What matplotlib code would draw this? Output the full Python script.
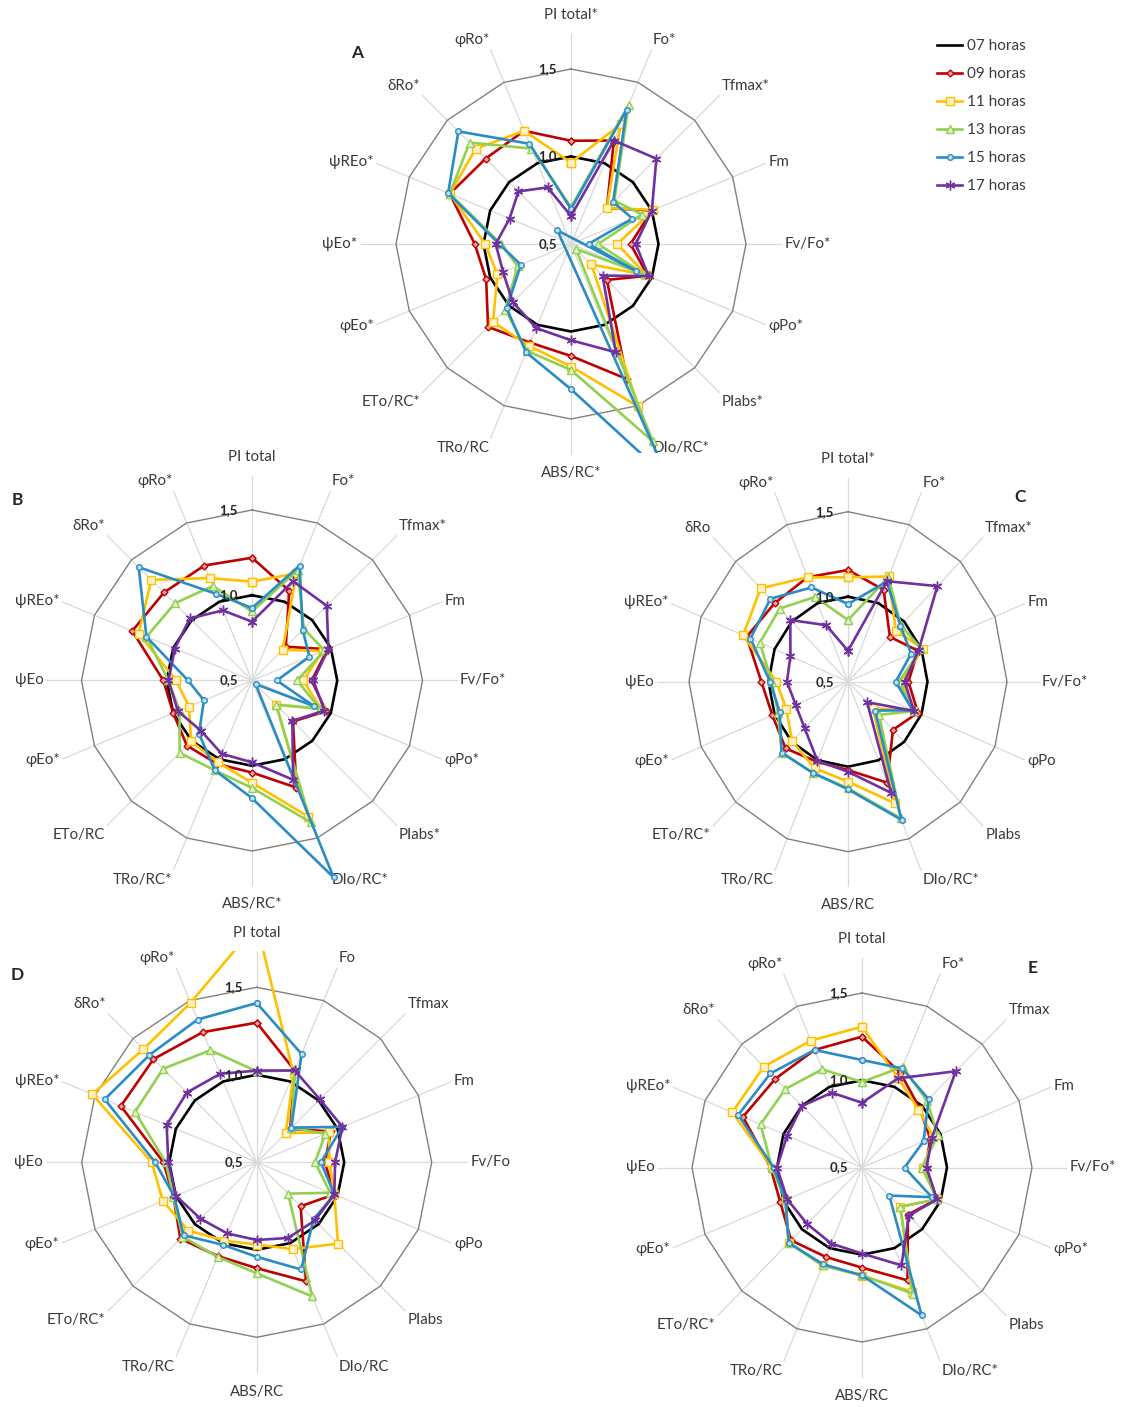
#Radar charts (A-E) of JIP-test parameters relative to 07 horas
import matplotlib.pyplot as plt
import numpy as np
from matplotlib.transforms import Bbox, TransformedBbox

plt.rcParams['font.family'] = ['Lato', 'DejaVu Sans']

W, H = 1139, 1407

hours = ['07 horas', '09 horas', '11 horas', '13 horas', '15 horas', '17 horas']
colors = ['#000000', '#C00000', '#FFC000', '#92D050', '#2B8CC4', '#7030A0']
faces = ['#000000', '#E8A6A6', '#FFF2CC', '#E2F0D0', '#BFE0F2', '#7030A0']
markers = [None, 'D', 's', '^', 'o', (6, 2, 0)]
msizes = [0, 3.5, 6, 6, 4, 7]

#Axis labels of each chart (order: clockwise from the top)
labels_A = ['PI total*', 'Fo*', 'Tfmax*', 'Fm', 'Fv/Fo*', 'φPo*', 'PIabs*', 'DIo/RC*',
            'ABS/RC*', 'TRo/RC', 'ETo/RC*', 'φEo*', 'ψEo*', 'ψREo*', 'δRo*', 'φRo*']
labels_B = ['PI total', 'Fo*', 'Tfmax*', 'Fm', 'Fv/Fo*', 'φPo*', 'PIabs*', 'DIo/RC*',
            'ABS/RC*', 'TRo/RC*', 'ETo/RC', 'φEo*', 'ψEo', 'ψREo*', 'δRo*', 'φRo*']
labels_C = ['PI total*', 'Fo*', 'Tfmax*', 'Fm', 'Fv/Fo*', 'φPo', 'PIabs', 'DIo/RC*',
            'ABS/RC', 'TRo/RC', 'ETo/RC*', 'φEo*', 'ψEo', 'ψREo*', 'δRo', 'φRo*']
labels_D = ['PI total', 'Fo', 'Tfmax', 'Fm', 'Fv/Fo', 'φPo', 'PIabs', 'DIo/RC',
            'ABS/RC', 'TRo/RC', 'ETo/RC*', 'φEo*', 'ψEo', 'ψREo*', 'δRo*', 'φRo*']
labels_E = ['PI total', 'Fo*', 'Tfmax', 'Fm', 'Fv/Fo*', 'φPo*', 'PIabs', 'DIo/RC*',
            'ABS/RC', 'TRo/RC', 'ETo/RC*', 'φEo*', 'ψEo', 'ψREo*', 'δRo*', 'φRo*']

#07 horas is the reference (=1)
ref_07 = [1.0, 1.0, 1.0, 1.0, 1.0, 1.0, 1.0, 1.0, 1.0, 1.0, 1.0, 1.0, 1.0, 1.0, 1.0, 1.0]

a_09 = [1.09, 1.14, 0.79, 1.00, 0.84, 0.975, 0.79, 1.335, 1.14, 1.11, 1.17, 1.025, 1.05, 1.25, 1.19, 1.20]
a_11 = [0.965, 1.24, 0.79, 1.01, 0.765, 0.965, 0.665, 1.505, 1.20, 1.13, 1.13, 0.955, 0.99, 1.25, 1.27, 1.20]
a_13 = [0.71, 1.36, 0.85, 0.94, 0.655, 0.955, 0.54, 1.72, 1.22, 1.16, 1.03, 0.83, 0.90, 1.25, 1.32, 1.09]
a_15 = [0.70, 1.33, 0.84, 0.88, 0.60, 0.90, 0.39, 1.95, 1.33, 1.17, 1.02, 0.81, 0.91, 1.26, 1.41, 1.12]
a_17 = [0.66, 1.14, 1.19, 1.00, 0.87, 0.98, 0.755, 1.17, 1.05, 1.02, 0.97, 0.92, 0.93, 0.88, 0.925, 0.85]

b_09 = [1.22, 1.07, 0.78, 0.98, 0.85, 0.97, 0.84, 1.18, 1.04, 1.03, 1.04, 1.00, 1.02, 1.26, 1.23, 1.23]
b_11 = [1.08, 1.18, 0.755, 0.95, 0.80, 0.94, 0.70, 1.365, 1.10, 1.02, 1.005, 0.90, 0.945, 1.22, 1.335, 1.15]
b_13 = [0.905, 1.20, 0.93, 0.96, 0.765, 0.93, 0.70, 1.40, 1.13, 1.07, 1.10, 0.96, 0.99, 1.17, 1.14, 1.10]
b_15 = [0.925, 1.23, 0.92, 0.865, 0.645, 0.895, 0.53, 1.75, 1.19, 1.07, 0.94, 0.805, 0.875, 1.17, 1.44, 1.05]
b_17 = [0.845, 1.13, 1.12, 0.985, 0.86, 0.96, 0.835, 1.13, 0.98, 0.965, 0.92, 0.97, 0.99, 0.99, 1.015, 0.945]

c_09 = [1.157, 1.085, 0.873, 0.976, 0.88, 0.976, 0.90, 1.143, 1.02, 1.01, 1.055, 1.015, 1.045, 1.19, 1.153, 1.165]
c_11 = [1.114, 1.17, 0.925, 1.01, 0.835, 0.95, 0.72, 1.275, 1.088, 1.05, 0.996, 0.92, 0.95, 1.214, 1.277, 1.165]
c_13 = [0.863, 1.165, 0.97, 1.0, 0.82, 0.95, 0.776, 1.37, 1.127, 1.08, 1.09, 0.976, 0.98, 1.10, 1.108, 1.04]
c_15 = [0.957, 1.137, 0.966, 0.93, 0.80, 0.94, 0.74, 1.38, 1.133, 1.08, 1.09, 0.965, 0.99, 1.164, 1.19, 1.10]
c_17 = [0.682, 1.14, 1.295, 0.98, 0.856, 0.95, 0.67, 1.207, 1.03, 1.003, 0.886, 0.856, 0.884, 0.892, 1.013, 0.86]

d_09 = [1.298, 1.068, 0.77, 0.96, 0.89, 0.98, 0.855, 1.236, 1.105, 1.08, 1.117, 1.015, 1.033, 1.34, 1.334, 1.305]
d_11 = [1.86, 1.05, 0.735, 0.946, 0.915, 0.98, 1.157, 1.037, 0.97, 0.984, 1.052, 1.08, 1.10, 1.517, 1.415, 1.487]
d_13 = [1.02, 1.068, 0.78, 0.925, 0.833, 0.955, 0.753, 1.33, 1.134, 1.085, 1.10, 1.015, 1.02, 1.253, 1.256, 1.193]
d_15 = [1.41, 1.17, 0.78, 1.03, 0.867, 0.98, 0.96, 1.163, 1.04, 1.01, 1.09, 1.01, 1.08, 1.44, 1.367, 1.383]
d_17 = [1.024, 1.068, 1.01, 1.03, 0.948, 0.98, 0.97, 0.968, 0.944, 0.94, 0.955, 1.0, 1.005, 1.057, 1.064, 1.047]

e_09 = [1.25, 1.088, 0.98, 0.934, 0.876, 0.977, 0.882, 1.20, 1.074, 1.055, 1.09, 1.02, 1.038, 1.258, 1.22, 1.229]
e_11 = [1.307, 1.055, 0.97, 0.955, 0.86, 0.977, 0.818, 1.27, 1.12, 1.107, 1.11, 0.987, 1.03, 1.326, 1.317, 1.287]
e_13 = [0.99, 1.125, 1.04, 0.983, 0.852, 0.977, 0.818, 1.283, 1.118, 1.107, 1.11, 0.987, 1.03, 1.146, 1.137, 1.109]
e_15 = [1.116, 1.115, 1.054, 0.892, 0.75, 0.945, 0.727, 1.417, 1.118, 1.10, 1.11, 0.987, 1.02, 1.288, 1.262, 1.229]
e_17 = [0.871, 1.053, 1.28, 0.945, 0.88, 0.977, 0.89, 1.107, 0.993, 0.972, 0.957, 0.976, 1.0, 0.977, 0.999, 0.964]

rmin, rmax = 0.5, 1.5   #radial axis of every chart

#letter, labels, series, centre x/y and radius x/y in pixels, visible y-band of the lines, letter position
panels = [
    ('A', labels_A, [ref_07, a_09, a_11, a_13, a_15, a_17], 571, 244, 175, 175, (0, 453), (357, 53)),
    ('B', labels_B, [ref_07, b_09, b_11, b_13, b_15, b_17], 252, 680.5, 170.5, 170.5, (0, H), (17, 500)),
    ('C', labels_C, [ref_07, c_09, c_11, c_13, c_15, c_17], 848, 681.7, 159, 170, (0, H), (1020, 497)),
    ('D', labels_D, [ref_07, d_09, d_11, d_13, d_15, d_17], 256.7, 1162.3, 175, 175, (951, H), (17, 975)),
    ('E', labels_E, [ref_07, e_09, e_11, e_13, e_15, e_17], 862, 1167.5, 170, 174.5, (0, H), (1033, 968)),
]

fig = plt.figure(figsize=(W / 100, H / 100), dpi=100)

theta = np.arange(16) * 2 * np.pi / 16
tc = np.append(theta, theta[0])

legend_lines = None
for letter, labels, series, cx, cy, rx, ry, band, lpos in panels:
    ax = fig.add_axes([(cx - rx) / W, 1 - (cy + ry) / H, 2 * rx / W, 2 * ry / H])
    ax.set_xlim(-1, 1)
    ax.set_ylim(-1, 1)
    ax.axis('off')

    #spokes
    for t in theta:
        ax.plot([0, 1.2 * np.sin(t)], [0, 1.2 * np.cos(t)], color='#D9D9D9', lw=0.9, clip_on=False, zorder=1)
    #outer polygon (1,5)
    ax.plot(np.sin(tc), np.cos(tc), color='#808080', lw=1.0, clip_on=False, zorder=1)

    #axis labels
    for t, lab in zip(theta, labels):
        s, c = np.sin(t), np.cos(t)
        r = 1.27 if abs(s) < 0.1 else 1.22
        ha = 'left' if s > 0.1 else ('right' if s < -0.1 else 'center')
        va = 'bottom' if c > 0.5 else ('top' if c < -0.5 else 'center')
        ax.text(r * s, r * c, lab, ha=ha, va=va, fontsize=10.8, color='#3A3A3A', clip_on=False)

    #series (lines running off the chart area are cut like in the original)
    clipbox = TransformedBbox(Bbox.from_extents(0, 1 - band[1] / H, 1, 1 - band[0] / H), fig.transFigure)
    lines = []
    for vals, col, fc, mk, ms in zip(series, colors, faces, markers, msizes):
        v = np.array(vals + [vals[0]]) - rmin
        ln, = ax.plot(v * np.sin(tc), v * np.cos(tc), color=col, lw=1.9, marker=mk, ms=ms,
                      mfc=fc, mec=col, mew=1.0, zorder=3)
        ln.set_clip_box(clipbox)
        lines.append(ln)
    if legend_lines is None:
        legend_lines = lines

    #radial tick labels
    for val, txt in [(0.5, '0,5'), (1.0, '1,0'), (1.5, '1,5')]:
        ax.text(-14 / rx, (val - rmin) / (rmax - rmin), txt, ha='right', va='center',
                fontsize=9.5, fontweight='bold', color='#262626', zorder=5, clip_on=False)

    fig.text(lpos[0] / W, 1 - lpos[1] / H, letter, ha='center', va='center',
             fontsize=12.5, fontweight='bold', color='#262626')

fig.legend(legend_lines, hours, loc='upper left', bbox_to_anchor=(937 / W, 1 - 39 / H),
           frameon=False, fontsize=11, handlelength=1.65, handletextpad=0.3,
           labelspacing=0.92, borderpad=0, borderaxespad=0, labelcolor='#3A3A3A')

fig.savefig('out.png', dpi=100)
